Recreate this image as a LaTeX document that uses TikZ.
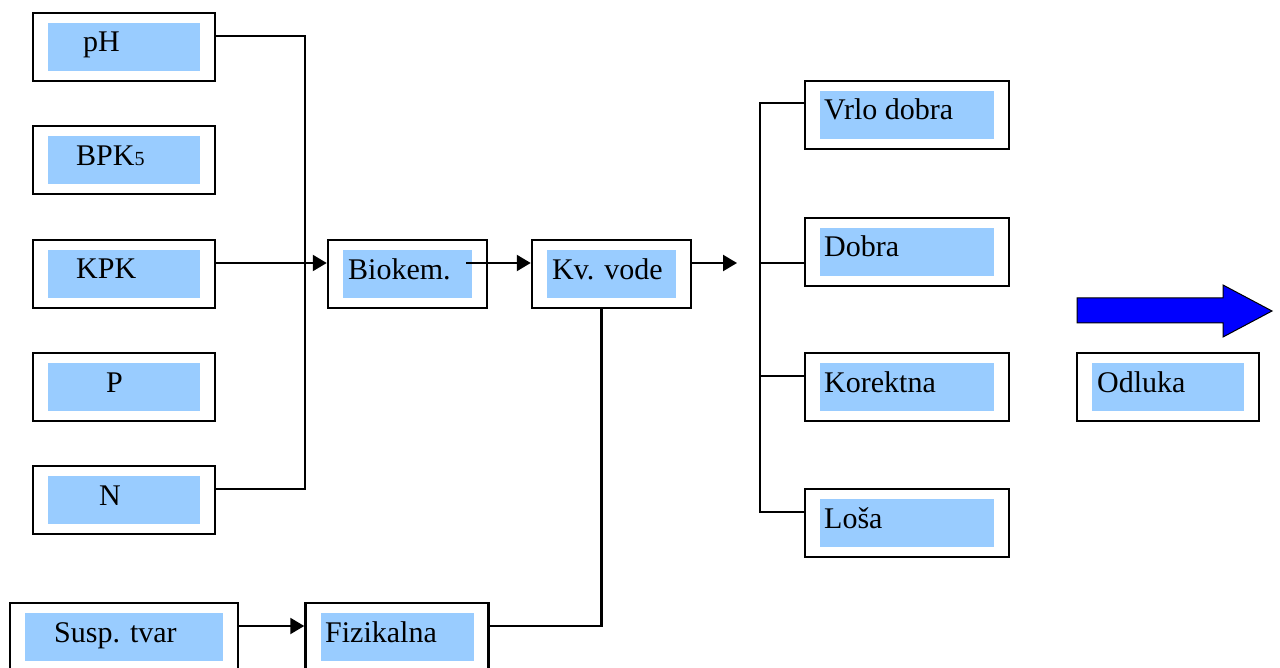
\documentclass[tikz,border=0pt]{standalone}
\usepackage{fontspec}
\setmainfont{Liberation Serif}
\usetikzlibrary{arrows.meta, calc}

\definecolor{plava}{RGB}{153,204,255}

\tikzset{
  okvir/.style={draw, line width=2.5pt, fill=white, minimum width=#1, minimum height=68pt,
    inner sep=0pt,
    path picture={\fill[plava]
      ([xshift=15pt,yshift=10pt]path picture bounding box.south west) rectangle
      ([xshift=-15pt,yshift=-10pt]path picture bounding box.north east);}},
  tekst/.style={anchor=base west, inner sep=0pt, font=\rmfamily\fontsize{30}{36}\selectfont},
  veza/.style={line width=2.2pt},
  strel/.style={veza, -{Triangle[length=14pt, width=16pt]}}
}

\begin{document}
\begin{tikzpicture}[x=1pt, y=-1pt]
\useasboundingbox (0,0) rectangle (1280,668);

% ulazni parametri
\node[okvir=182pt] (ph)  at (124,47)  {};
\node[okvir=182pt] (bpk) at (124,160) {};
\node[okvir=182pt] (kpk) at (124,274) {};
\node[okvir=182pt] (p)   at (124,387) {};
\node[okvir=182pt] (n)   at (124,500) {};
\node[okvir=228pt] (susp) at (124,637) {};

\node[tekst] (tph)  at (83,52)  {pH};
\node[tekst] (tbpk) at (76,166) {BPK{\fontsize{20}{24}\selectfont 5}};
\node[tekst] (tkpk) at (76,279) {KPK};
\node[tekst] (tp)   at (106,392) {P};
\node[tekst] (tn)   at (99,505) {N};
\node[tekst] (tsusp) at (54,642) {Susp. tvar};

% medjurezultati
\node[okvir=159pt] (biokem) at (407.5,274) {};
\node[okvir=159pt] (kv)     at (611.5,274) {};
\node[okvir=183pt] (fiz)    at (397,637) {};

\node[tekst] (tbiokem) at (348,280) {Biokem.};
\node[tekst] (tkv)     at (552,280) {Kv. vode};
\node[tekst] (tfiz)    at (325,642) {Fizikalna};

% ocjene
\node[okvir=204pt] (vrlo) at (907,115) {};
\node[okvir=204pt] (dobra) at (907,252) {};
\node[okvir=204pt] (kor)  at (907,387) {};
\node[okvir=204pt] (losa) at (907,523) {};
\node[okvir=182pt] (odl)  at (1168,387) {};

\node[tekst] (tvrlo)  at (824,120) {Vrlo dobra};
\node[tekst] (tdobra) at (824,257) {Dobra};
\node[tekst] (tkor)   at (824,392) {Korektna};
\node[tekst] (tlosa)  at (824,528) {Loša};
\node[tekst] (todl)   at (1097,392) {Odluka};

\coordinate (sab) at (305,0);
\coordinate (kraj) at (737,263);
\coordinate (deblo) at (760,0);

% veze
\draw[veza] ([yshift=11pt]ph.east) -| ([yshift=11pt]sab |- n.east) -- ([yshift=11pt]n.east);
\draw[strel] ([yshift=11pt]kpk.east) -- ([yshift=11pt]biokem.west);
\draw[strel] ([xshift=-22pt,yshift=11pt]biokem.east) -- ([yshift=11pt]kv.west);
\draw[strel] ([yshift=11pt]kv.east) -- (kraj);
\draw[veza] ([xshift=-10pt]kv.south) |- ([yshift=11pt]fiz.east);
\draw[strel] ([yshift=11pt]susp.east) -- ([yshift=11pt]fiz.west);

\draw[veza] ([yshift=12pt]vrlo.west) -| ([yshift=11pt]deblo |- losa.west) -- ([yshift=11pt]losa.west);
\draw[veza] ([yshift=-11pt]dobra.west) -- ([yshift=-11pt]deblo |- dobra.west);
\draw[veza] ([yshift=11pt]kor.west) -- ([yshift=11pt]deblo |- kor.west);

% plava strelica
\fill[blue, draw=black, line width=1pt] (1077,298) -- (1223,298) -- (1223,285) -- (1272,311)
  -- (1223,337) -- (1223,323) -- (1077,323) -- cycle;
\end{tikzpicture}
\end{document}
